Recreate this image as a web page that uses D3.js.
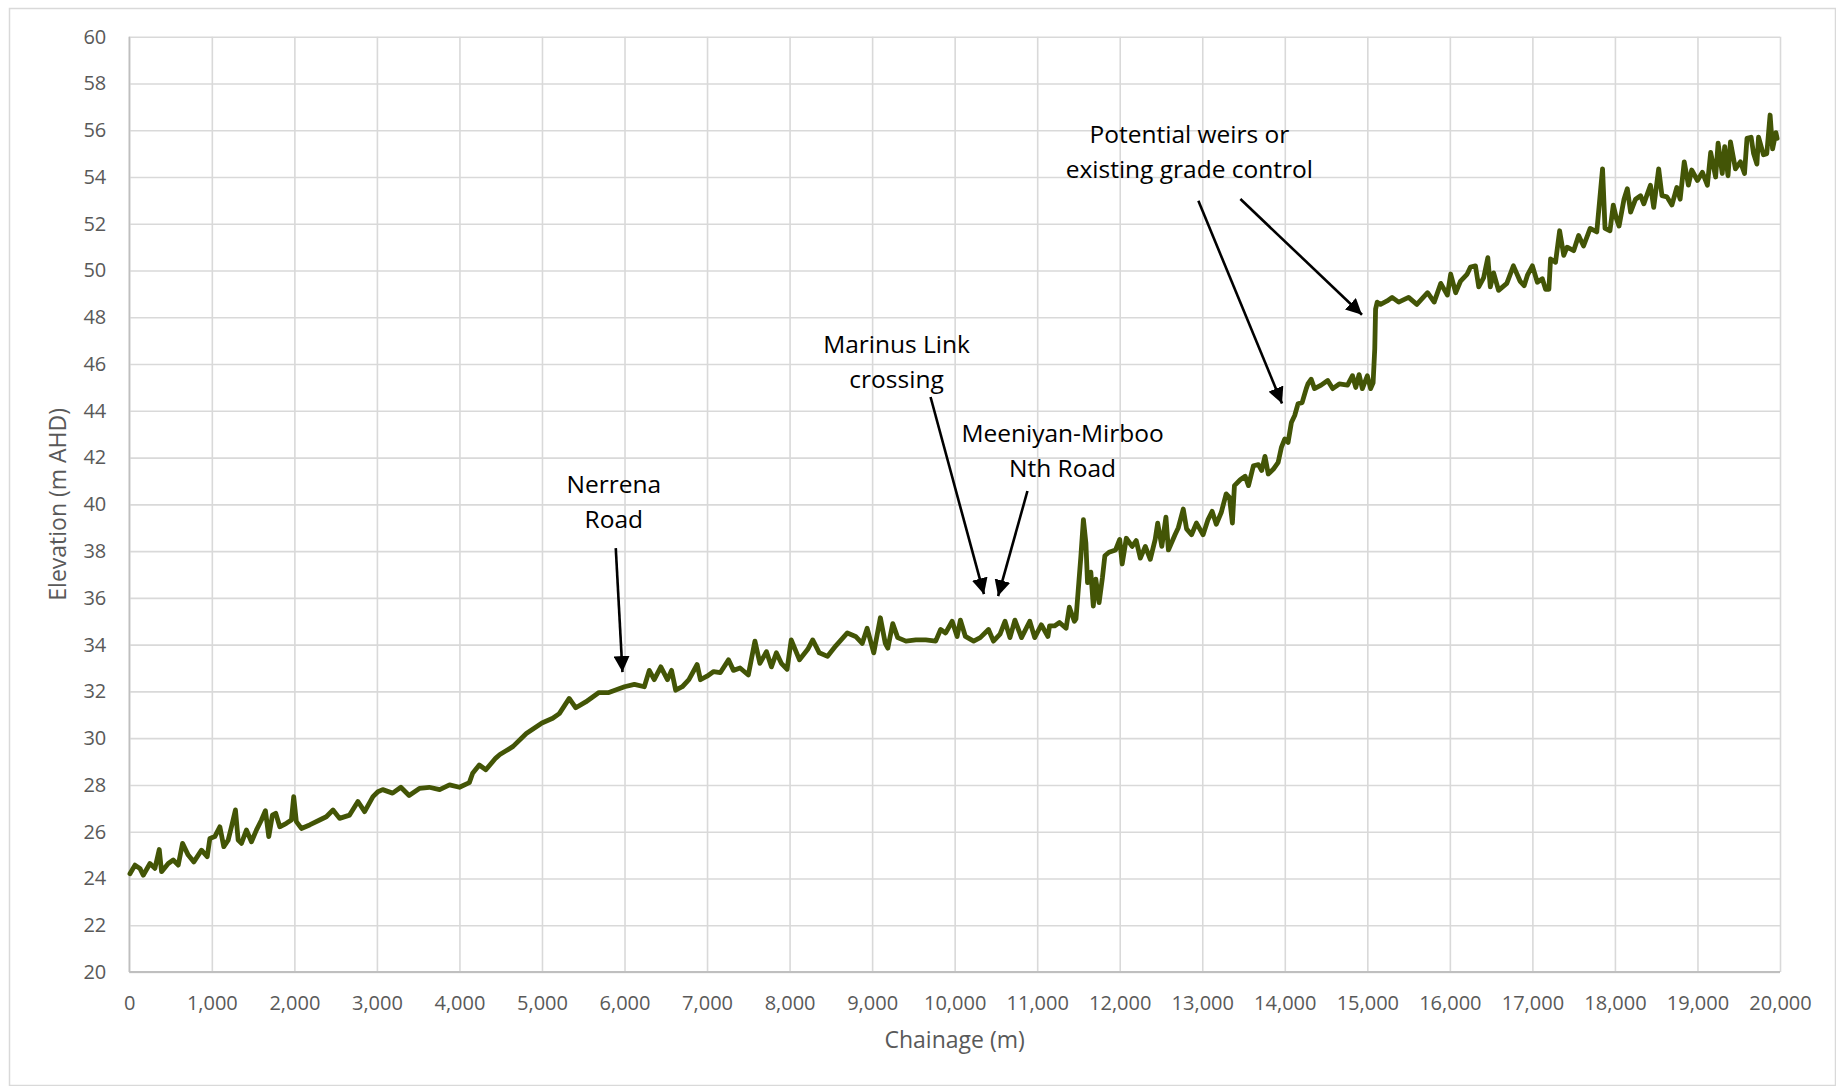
<!DOCTYPE html>
<html>
<head>
<meta charset="utf-8">
<title>Longitudinal bed profile</title>
<script src="https://cdn.jsdelivr.net/npm/d3@7"></script>
<style>
  html, body { margin: 0; padding: 0; background: #ffffff; }
  svg { display: block; }
  text { font-family: "Open Sans", "Noto Sans", sans-serif; }
</style>
</head>
<body>
<svg id="chart" width="1836" height="1086"></svg>
<script>
// Surveyed thalweg profile: chainage (m) and bed elevation (m AHD)
const chainage = [
  8, 69, 129, 169, 250, 310, 363, 391, 472, 532, 593, 645, 714, 782, 875, 944, 976,
  1036, 1097, 1145, 1198, 1238, 1286, 1319, 1359, 1419, 1480, 1540, 1601, 1649, 1690,
  1734, 1774, 1823, 1903, 1964, 1992, 2024, 2085, 2185, 2306, 2387, 2468, 2548, 2669,
  2770, 2851, 2952, 3012, 3070, 3190, 3290, 3390, 3515, 3635, 3760, 3880, 4000, 4120,
  4160, 4240, 4320, 4440, 4490, 4560, 4650, 4810, 5000, 5130, 5210, 5330, 5410, 5530,
  5690, 5810, 6000, 6120, 6240, 6300, 6360, 6440, 6520, 6570, 6620, 6700, 6780, 6880,
  6920, 7000, 7080, 7160, 7260, 7320, 7400, 7500, 7580, 7640, 7720, 7780, 7840, 7900,
  7970, 8020, 8120, 8220, 8280, 8360, 8460, 8560, 8700, 8800, 8880, 8940, 9020, 9100,
  9160, 9190, 9250, 9310, 9410, 9530, 9650, 9770, 9830, 9890, 9970, 10030, 10070, 10130,
  10230, 10310, 10410, 10470, 10550, 10610, 10670, 10730, 10810, 10910, 10970, 11050,
  11130, 11150, 11210, 11270, 11350, 11390, 11450, 11470, 11530, 11560, 11590, 11610,
  11650, 11680, 11710, 11750, 11790, 11820, 11870, 11950, 12000, 12030, 12080, 12150,
  12200, 12250, 12310, 12370, 12430, 12460, 12510, 12560, 12590, 12670, 12710, 12770,
  12810, 12870, 12930, 13010, 13070, 13120, 13170, 13230, 13290, 13330, 13365, 13390,
  13460, 13520, 13560, 13620, 13680, 13720, 13760, 13800, 13860, 13920, 13960, 14000,
  14040, 14080, 14120, 14160, 14210, 14260, 14280, 14320, 14360, 14440, 14520, 14580,
  14660, 14760, 14820, 14860, 14900, 14940, 15000, 15040, 15070, 15090, 15100, 15120,
  15160, 15240, 15300, 15380, 15500, 15600, 15730, 15810, 15890, 15970, 16010, 16070,
  16130, 16210, 16250, 16310, 16350, 16410, 16460, 16490, 16530, 16590, 16690, 16770,
  16850, 16900, 16940, 17000, 17060, 17120, 17160, 17200, 17220, 17280, 17330, 17380,
  17420, 17500, 17560, 17620, 17700, 17780, 17850, 17880, 17940, 17980, 18020, 18050,
  18110, 18150, 18190, 18250, 18310, 18350, 18430, 18470, 18530, 18570, 18630, 18690,
  18750, 18790, 18840, 18890, 18930, 19000, 19060, 19120, 19160, 19220, 19250, 19300,
  19330, 19370, 19400, 19460, 19520, 19570, 19600, 19650, 19680, 19720, 19740, 19800,
  19840, 19880, 19910, 19950, 19965
];
const elevation = [
  24.2, 24.57, 24.43, 24.14, 24.64, 24.43, 25.24, 24.29, 24.64, 24.79, 24.57, 25.5, 25.0, 24.71, 25.21, 24.93, 25.71,
  25.79, 26.21, 25.36, 25.64, 26.21, 26.93, 25.64, 25.5, 26.07, 25.57, 26.07, 26.5, 26.9, 25.79,
  26.71, 26.79, 26.21, 26.36, 26.5, 27.5, 26.43, 26.14, 26.29, 26.5, 26.64, 26.93, 26.57, 26.71,
  27.29, 26.86, 27.5, 27.71, 27.8, 27.65, 27.9, 27.55, 27.85, 27.9, 27.8, 28.0, 27.9, 28.1,
  28.5, 28.85, 28.65, 29.15, 29.3, 29.45, 29.65, 30.2, 30.65, 30.85, 31.05, 31.7, 31.3, 31.55,
  31.95, 31.95, 32.2, 32.3, 32.2, 32.9, 32.5, 33.05, 32.5, 32.9, 32.05, 32.2, 32.5, 33.15,
  32.5, 32.65, 32.85, 32.8, 33.35, 32.9, 33.0, 32.7, 34.15, 33.2, 33.7, 33.05, 33.65, 33.2,
  32.95, 34.2, 33.35, 33.8, 34.2, 33.65, 33.5, 33.95, 34.5, 34.35, 34.05, 34.7, 33.65, 35.15,
  34.05, 33.85, 34.9, 34.3, 34.15, 34.2, 34.2, 34.15, 34.65, 34.5, 35.0, 34.35, 35.05, 34.35,
  34.15, 34.3, 34.65, 34.15, 34.45, 35.0, 34.3, 35.05, 34.3, 35.0, 34.3, 34.85,
  34.35, 34.8, 34.8, 34.95, 34.7, 35.6, 35.0, 35.1, 37.8, 39.35, 38.35, 36.65,
  37.1, 35.65, 36.8, 35.8, 36.85, 37.8, 37.95, 38.05, 38.5, 37.45, 38.55, 38.2,
  38.45, 37.7, 38.2, 37.65, 38.5, 39.2, 38.2, 39.45, 38.05, 38.7, 39.0, 39.8,
  38.95, 38.7, 39.2, 38.7, 39.35, 39.7, 39.15, 39.65, 40.45, 40.3, 39.2, 40.8,
  41.05, 41.2, 40.8, 41.65, 41.7, 41.45, 42.05, 41.3, 41.5, 41.8, 42.45, 42.8,
  42.65, 43.5, 43.8, 44.3, 44.35, 44.95, 45.15, 45.35, 44.95, 45.1, 45.3, 44.95,
  45.15, 45.1, 45.5, 45.0, 45.55, 44.95, 45.5, 44.95, 45.2, 46.65, 48.35, 48.65,
  48.55, 48.7, 48.85, 48.65, 48.85, 48.55, 49.05, 48.65, 49.45, 48.95, 49.85, 49.05,
  49.55, 49.85, 50.15, 50.2, 49.3, 49.7, 50.55, 49.3, 49.9, 49.15, 49.45, 50.2,
  49.55, 49.35, 49.8, 50.2, 49.5, 49.65, 49.2, 49.2, 50.5, 50.35, 51.7, 50.65,
  51.0, 50.85, 51.5, 51.05, 51.8, 51.65, 54.35, 51.8, 51.7, 52.8, 52.2, 51.9,
  53.05, 53.5, 52.5, 53.05, 53.2, 52.85, 53.65, 52.7, 54.35, 53.2, 53.15, 52.8,
  53.55, 53.05, 54.65, 53.65, 54.3, 53.85, 54.2, 53.65, 55.05, 54.0, 55.45, 54.15,
  55.3, 54.05, 55.5, 54.35, 54.65, 54.15, 55.65, 55.7, 55.0, 54.55, 55.7, 54.95,
  55.0, 56.65, 55.2, 55.9, 55.65
];

// Axis ticks
const xTicks = d3.range(0, 20001, 1000);
const yTicks = d3.range(20, 61, 2);

// Call-outs: label lines, label anchor (chainage, elevation of first baseline),
// and arrows from/to in data units
const annotations = [
  { lines: ["Nerrena", "Road"], at: [5870, 40.5],
    arrows: [[[5894, 38.13], [5979, 32.57]]] },
  { lines: ["Marinus Link", "crossing"], at: [9296, 46.49],
    arrows: [[[9708, 44.59], [10374, 35.91]]] },
  { lines: ["Meeniyan-Mirboo", "Nth Road"], at: [11307, 42.68],
    arrows: [[[10882, 40.57], [10507, 35.83]]] },
  { lines: ["Potential weirs or", "existing grade control"], at: [12844, 55.47],
    arrows: [[[12953, 52.98], [13994, 44.08]], [[13462, 53.06], [14988, 47.93]]] }
];

const xTitle = "Chainage (m)";
const yTitle = "Elevation (m AHD)";

const W = 1836, H = 1086;
const margin = { top: 36.7, right: 56, bottom: 114, left: 129.3 };
const iw = W - margin.left - margin.right;
const ih = H - margin.top - margin.bottom;

const svg = d3.select("#chart");

// Chart frame
svg.append("rect")
  .attr("x", 9.5).attr("y", 8.5)
  .attr("width", W - 10).attr("height", H - 9)
  .attr("fill", "#ffffff").attr("stroke", "#d9d9d9").attr("stroke-width", 1.5);

const g = svg.append("g").attr("transform", `translate(${margin.left},${margin.top})`);

const x = d3.scaleLinear().domain([0, 20000]).range([0, iw]);
const y = d3.scaleLinear().domain([20, 60]).range([ih, 0]);

// Gridlines
const gx = g.append("g").attr("class", "grid-x")
  .attr("transform", `translate(0,${ih})`)
  .call(d3.axisBottom(x).tickValues(xTicks).tickSize(-ih).tickFormat(""));
gx.select(".domain").remove();
gx.selectAll("line").attr("stroke", "#d9d9d9").attr("stroke-width", 1.6);

const gy = g.append("g").attr("class", "grid-y")
  .call(d3.axisLeft(y).tickValues(yTicks).tickSize(-iw).tickFormat(""));
gy.select(".domain").remove();
gy.selectAll("line").attr("stroke", "#d9d9d9").attr("stroke-width", 1.6);

// Axis lines
g.append("line").attr("x1", 0).attr("x2", iw).attr("y1", ih).attr("y2", ih)
  .attr("stroke", "#bfbfbf").attr("stroke-width", 1.8);
g.append("line").attr("x1", 0).attr("x2", 0).attr("y1", 0).attr("y2", ih)
  .attr("stroke", "#bfbfbf").attr("stroke-width", 1.6);

// Tick labels
const ax = g.append("g").attr("transform", `translate(0,${ih})`)
  .call(d3.axisBottom(x).tickValues(xTicks).tickSize(0).tickPadding(24).tickFormat(d3.format(",")));
ax.select(".domain").remove();
ax.selectAll("text").attr("fill", "#595959").style("font-size", "20px")
  .style("font-family", "'Open Sans', sans-serif");

const ay = g.append("g")
  .call(d3.axisLeft(y).tickValues(yTicks).tickSize(0).tickPadding(23).tickFormat(d3.format("d")));
ay.select(".domain").remove();
ay.selectAll("text").attr("fill", "#595959").style("font-size", "20px")
  .style("font-family", "'Open Sans', sans-serif");

// Axis titles
svg.append("text")
  .attr("x", margin.left + iw / 2).attr("y", 1048)
  .attr("text-anchor", "middle").attr("fill", "#595959")
  .style("font-size", "23px").text(xTitle);
svg.append("text")
  .attr("transform", `translate(66,${margin.top + ih / 2}) rotate(-90)`)
  .attr("text-anchor", "middle").attr("fill", "#595959")
  .style("font-size", "23px").text(yTitle);

// Profile line
const profile = chainage.map((c, i) => [c, elevation[i]]);
g.append("path")
  .datum(profile)
  .attr("fill", "none")
  .attr("stroke", "#435506")
  .attr("stroke-width", 4.8)
  .attr("stroke-linejoin", "round")
  .attr("stroke-linecap", "round")
  .attr("d", d3.line().x(d => x(d[0])).y(d => y(d[1])));

// Arrowhead
svg.append("defs").append("marker")
  .attr("id", "arrowhead")
  .attr("markerUnits", "userSpaceOnUse")
  .attr("viewBox", "0 0 16 16")
  .attr("refX", 16).attr("refY", 8)
  .attr("markerWidth", 16).attr("markerHeight", 16)
  .attr("orient", "auto")
  .append("path").attr("d", "M0,0 L16,8 L0,16 Z").attr("fill", "#000");

// Call-outs
const ann = g.append("g").attr("class", "annotations");
annotations.forEach(a => {
  const t = ann.append("text")
    .attr("x", x(a.at[0])).attr("y", y(a.at[1]))
    .attr("text-anchor", "middle").attr("fill", "#000")
    .style("font-size", "24.5px");
  a.lines.forEach((ln, i) => {
    t.append("tspan").attr("x", x(a.at[0])).attr("dy", i === 0 ? 0 : 35.8).text(ln);
  });
  a.arrows.forEach(([from, to]) => {
    const x1 = x(from[0]), y1 = y(from[1]);
    const x2 = x(to[0]), y2 = y(to[1]);
    const len = Math.hypot(x2 - x1, y2 - y1);
    // stop the shaft just short of the tip so the head stays sharp
    const k = (len - 6) / len;
    ann.append("line")
      .attr("x1", x1).attr("y1", y1)
      .attr("x2", x1 + (x2 - x1) * k).attr("y2", y1 + (y2 - y1) * k)
      .attr("stroke", "#000").attr("stroke-width", 2.6)
      .attr("marker-end", "url(#arrowhead)");
  });
});
</script>
</body>
</html>
